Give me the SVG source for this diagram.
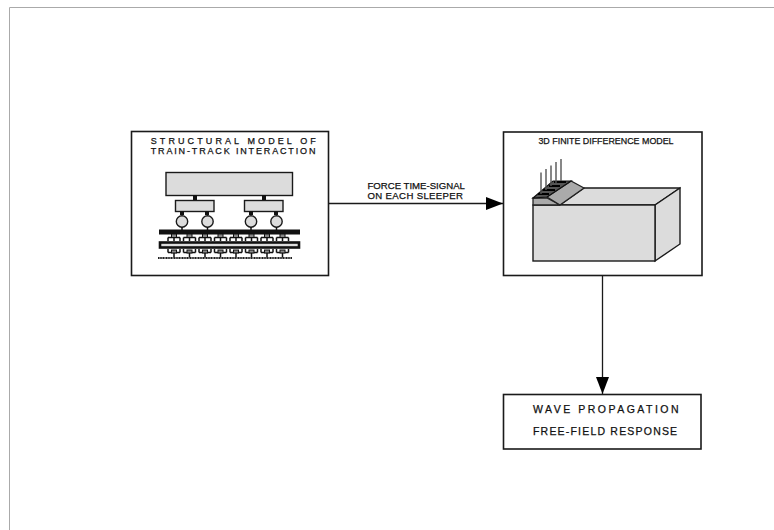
<svg xmlns="http://www.w3.org/2000/svg" width="774" height="530" viewBox="0 0 774 530">
<defs>
<style>
.box{fill:#fff;stroke:#1a1a1a;stroke-width:1.6}
.m{fill:#dcdcdc;stroke:#1a1a1a;stroke-width:1.4}
.t{font-family:"Liberation Sans",Arial,sans-serif;fill:#111;stroke:#111;stroke-width:.25}
.c{stroke:#111;stroke-width:1.5;fill:none}
.b{fill:#111}
</style>
<g id="sp"><path class="c" d="M-6 3.500H6M-6 3.500V7M6 3.500V7M0 3.500V7"/><rect x="-2.500" y="0" width="5" height="3.500" fill="#888" stroke="#111" stroke-width="1"/></g>
<g id="sp2"><path class="c" d="M-6 3.500H6M-6 0V3.500M6 0V3.500M0 3.500V8.500"/><rect x="-2.500" y="1" width="5" height="3" fill="#888" stroke="#111" stroke-width="1"/></g>
<marker id="ah" markerUnits="userSpaceOnUse" markerWidth="18" markerHeight="13" refX="17" refY="6.500" orient="auto"><path d="M0 0L17 6.500L0 13Z" fill="#000"/></marker>
</defs>
<rect width="774" height="530" fill="#fff"/>
<path d="M9.500 530V7.500H774" fill="none" stroke="#aaa" stroke-width="1"/>
<g id="connectors" fill="none" stroke="#1a1a1a" stroke-width="1.3">
<path d="M329 203.500H503" marker-end="url(#ah)"/>
<path d="M602.500 275V394" marker-end="url(#ah)"/>
</g>
<g id="structural-model">
<rect class="box" x="131.500" y="131.500" width="197" height="144"/>
<text class="t" x="150.700" y="143.500" font-size="9" letter-spacing="3.100">STRUCTURAL MODEL OF</text>
<text class="t" x="150.700" y="154" font-size="9" letter-spacing="1.850">TRAIN-TRACK INTERACTION</text>
<rect class="m" x="166" y="172.500" width="126.500" height="23"/>
<rect class="b" x="193" y="195" width="4" height="5"/><rect class="b" x="262" y="195" width="4" height="5"/>
<rect class="m" x="175.500" y="200.500" width="38.500" height="11"/>
<rect class="m" x="244.500" y="200.500" width="38.500" height="11"/>
<g class="b"><rect x="180" y="211" width="4" height="4"/><rect x="205" y="211" width="4" height="4"/><rect x="249" y="211" width="4" height="4"/><rect x="274" y="211" width="4" height="4"/></g>
<circle class="m" cx="182" cy="221.500" r="5.700"/><circle class="m" cx="207.500" cy="221.500" r="5.700"/><circle class="m" cx="251" cy="221.500" r="5.700"/><circle class="m" cx="276.500" cy="221.500" r="5.700"/>
<path class="c" d="M182 227V230M207.500 227V230M251 227V230M276.500 227V230"/>
<rect class="b" x="159" y="229.500" width="141" height="5"/>
<use href="#sp" x="174" y="234"/><use href="#sp" x="189.500" y="234"/><use href="#sp" x="205" y="234"/><use href="#sp" x="220.500" y="234"/><use href="#sp" x="236" y="234"/><use href="#sp" x="251.500" y="234"/><use href="#sp" x="267" y="234"/><use href="#sp" x="282.500" y="234"/>
<rect x="160" y="242.500" width="139" height="5" fill="#ddd" stroke="#111" stroke-width="2.600"/>
<use href="#sp2" x="174" y="249"/><use href="#sp2" x="189.500" y="249"/><use href="#sp2" x="205" y="249"/><use href="#sp2" x="220.500" y="249"/><use href="#sp2" x="236" y="249"/><use href="#sp2" x="251.500" y="249"/><use href="#sp2" x="267" y="249"/><use href="#sp2" x="282.500" y="249"/>
<path d="M158 258H292" stroke="#222" stroke-width="2.200" stroke-dasharray="1.200 .4" fill="none"/>
</g>
<g id="fd-model">
<rect class="box" x="503.500" y="132" width="198.500" height="143.500"/>
<text class="t" x="606" y="143.500" font-size="8.900" text-anchor="middle">3D FINITE DIFFERENCE MODEL</text>
<path class="m" d="M560 205L584 188H680L655 205Z" stroke-linejoin="round"/>
<path class="m" d="M655 205L680 188V244L655 261Z"/>
<rect class="m" x="533" y="205" width="122" height="56"/>
<path d="M533 205V198H547L560 205Z" fill="#aaa" stroke="#222" stroke-width="1.300"/>
<path d="M560 205L547 197L571 181L584 188Z" fill="#aaa" stroke="#222" stroke-width="1.300"/>
<path d="M533 198L553 181H571L547 197Z" fill="#555" stroke="#111" stroke-width="1.200"/>
<path d="M538 194H549M543 190H555M549 186H560M554 182H566" stroke="#000" stroke-width="1.800"/>
<path d="M541 172.500V194M546 169V190M551 165.500V186M556 162V183M561 159V181" stroke="#555" stroke-width="1.400"/>
</g>
<g id="wave-propagation">
<rect class="box" x="503.500" y="394.500" width="197.500" height="54.500"/>
<text class="t" x="533" y="413" font-size="10.500" letter-spacing="2.500">WAVE PROPAGATION</text>
<text class="t" x="533" y="435.300" font-size="10.500" letter-spacing="1.200">FREE-FIELD RESPONSE</text>
</g>
<g id="force-label">
<text class="t" x="367.500" y="189.300" font-size="9.600">FORCE TIME-SIGNAL</text>
<text class="t" x="367.500" y="199.300" font-size="9.600" letter-spacing=".35">ON EACH SLEEPER</text>
</g>
</svg>
